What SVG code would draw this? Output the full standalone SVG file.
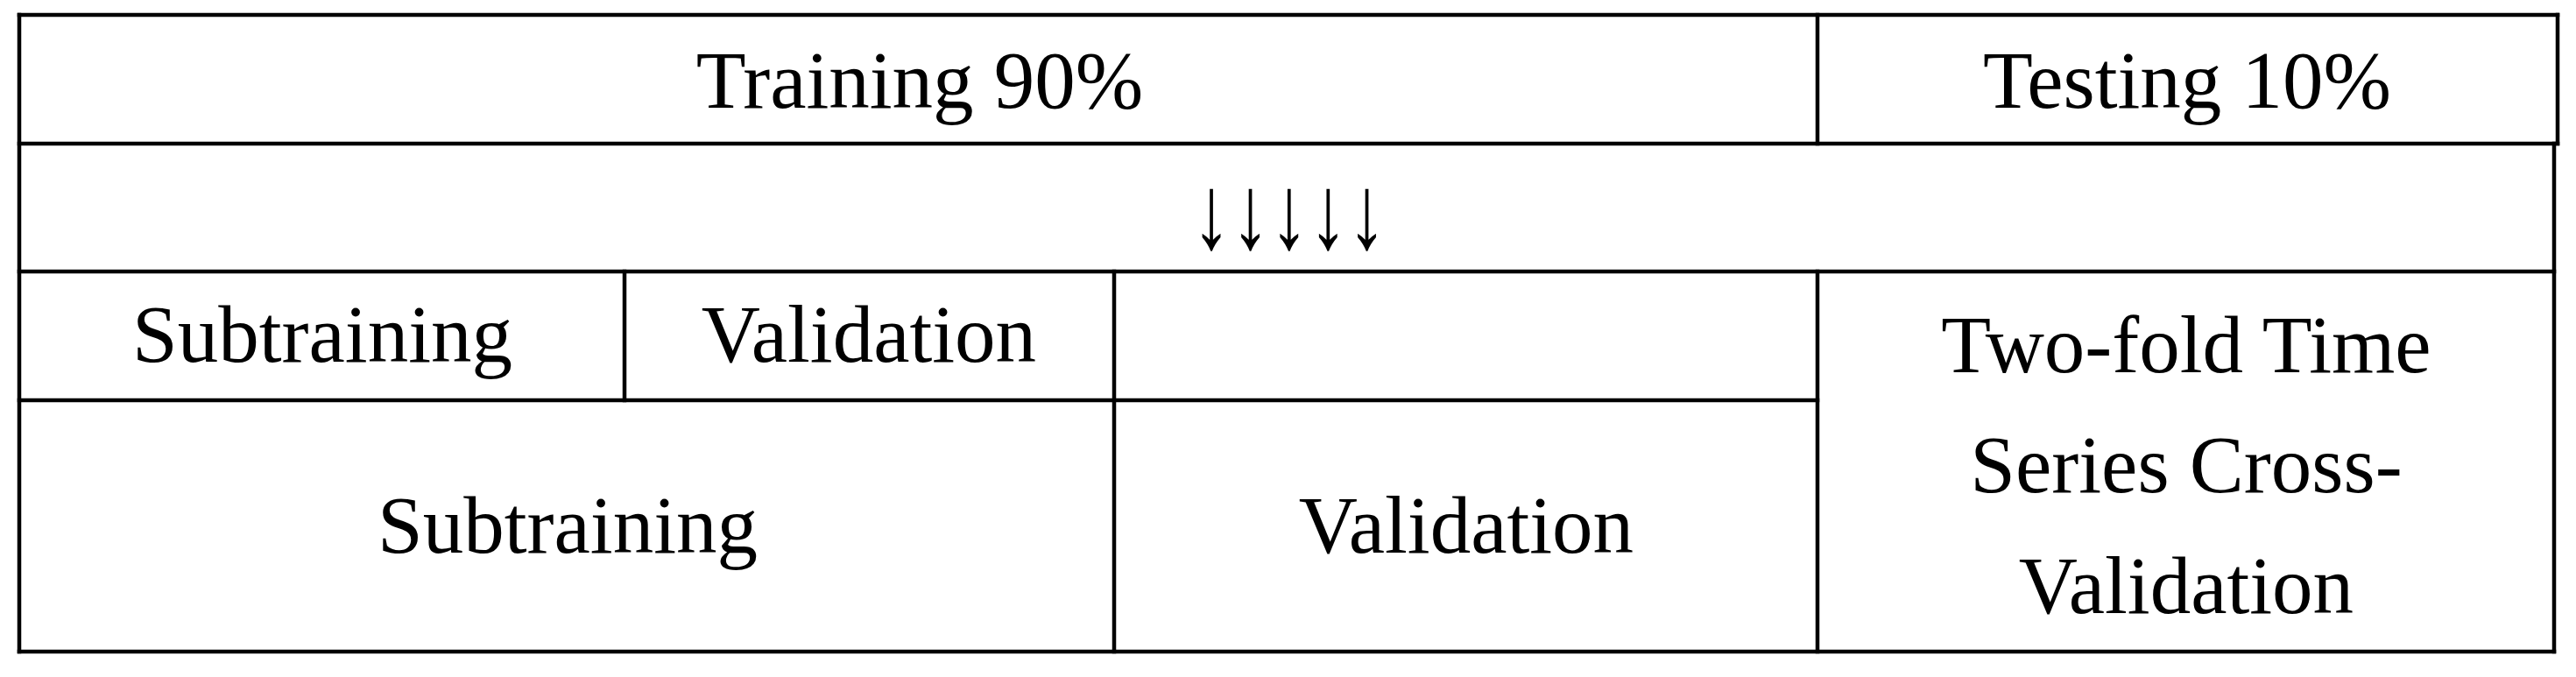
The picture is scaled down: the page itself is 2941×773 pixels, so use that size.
<svg xmlns="http://www.w3.org/2000/svg" width="2941" height="773" viewBox="0 0 2941 773">
<style>
.g line{stroke:#000;stroke-width:4.5;stroke-linecap:square}
text{font-family:"Liberation Serif","Times New Roman",serif;font-size:93px;fill:#000;text-anchor:middle}
</style>
<rect x="0" y="0" width="2941" height="773" fill="#fff"/>
<g id="grid" class="g">
<line x1="22" y1="17" x2="2920" y2="17"/>
<line x1="22" y1="164" x2="2920" y2="164"/>
<line x1="22" y1="310" x2="2916" y2="310"/>
<line x1="22" y1="457" x2="2075" y2="457"/>
<line x1="22" y1="744" x2="2916" y2="744"/>
<line x1="22" y1="17" x2="22" y2="744"/>
<line x1="2920" y1="17" x2="2920" y2="164"/>
<line x1="2916" y1="164" x2="2916" y2="744"/>
<line x1="2075" y1="17" x2="2075" y2="164"/>
<line x1="2075" y1="310" x2="2075" y2="744"/>
<line x1="713" y1="310" x2="713" y2="457"/>
<line x1="1272" y1="310" x2="1272" y2="744"/>
</g>
<g id="training"><text x="1050" y="123">Training 90%</text></g>
<g id="testing"><text x="2497" y="123">Testing 10%</text></g>
<g id="arrows"><text x="1472" y="283" style="font-size:120px" textLength="222" lengthAdjust="spacingAndGlyphs">↓↓↓↓↓</text></g>
<g id="subtraining1"><text x="368" y="413">Subtraining</text></g>
<g id="validation1"><text x="992" y="413">Validation</text></g>
<g id="subtraining2"><text x="648" y="631">Subtraining</text></g>
<g id="validation2"><text x="1674" y="631">Validation</text></g>
<g id="cv"><text x="2496" y="425">Two-fold Time</text><text x="2496" y="562">Series Cross-</text><text x="2496" y="700">Validation</text></g>
</svg>
